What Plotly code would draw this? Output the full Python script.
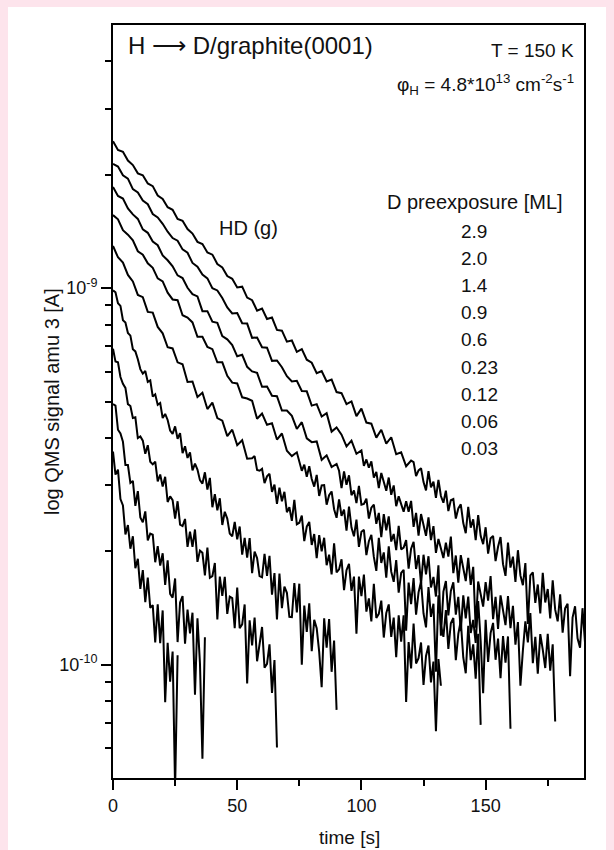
import math
import plotly.graph_objects as go

# ---------------- data ----------------
# D pre-exposure coverages [ML], top curve to bottom curve
coverage_labels = ["2.9", "2.0", "1.4", "0.9", "0.6", "0.23", "0.12", "0.06", "0.03"]
# each transient is read every 2 s up to fine_from_s, and every 1 s after it
fine_from_s = [120, 100, 90, 76, 56, 0, 0, 0, 0]
COARSE_STEP_S, FINE_STEP_S = 2, 1
# signal values given as log10(signal / 1e-10 A)
SIGNAL_UNIT_A = 1e-10

lg_2p9 = [1.390, 1.367, 1.362, 1.339, 1.327, 1.305, 1.300, 1.278, 1.271, 1.246,
          1.237, 1.215, 1.208, 1.184, 1.179, 1.157, 1.145, 1.123, 1.117, 1.095,
          1.089, 1.064, 1.055, 1.032, 1.025, 1.002, 1.004, 0.975, 0.968, 0.940,
          0.946, 0.918, 0.922, 0.889, 0.887, 0.858, 0.861, 0.831, 0.838, 0.810,
          0.802, 0.774, 0.780, 0.752, 0.757, 0.724, 0.721, 0.692, 0.699, 0.660,
          0.680, 0.643, 0.640, 0.603, 0.624, 0.587, 0.604, 0.559, 0.564, 0.527,
          0.542,
          0.538, 0.501, 0.516, 0.522, 0.485, 0.463, 0.514, 0.471, 0.486, 0.443,
          0.491, 0.448, 0.430, 0.462, 0.408, 0.437, 0.440, 0.388, 0.415, 0.426,
          0.376, 0.349, 0.419, 0.364, 0.386, 0.331, 0.397, 0.342, 0.320, 0.365,
          0.295, 0.336, 0.342, 0.275, 0.313, 0.339, 0.267, 0.236, 0.324, 0.258,
          0.287, 0.220, 0.304, 0.237, 0.211, 0.270, 0.108, 0.237, 0.245, 0.164,
          0.213, 0.136, 0.244, 0.165, 0.201, 0.123, 0.224, 0.146, 0.115, 0.187,
          0.085, 0.150, 0.162, -0.031, 0.125, 0.155, 0.070, 0.045, 0.150, 0.060]

lg_2p0 = [1.330, 1.323, 1.300, 1.291, 1.263, 1.254, 1.233, 1.223, 1.197, 1.188,
          1.171, 1.150, 1.133, 1.126, 1.103, 1.094, 1.067, 1.057, 1.036, 1.026,
          1.000, 0.994, 0.974, 0.949, 0.933, 0.934, 0.907, 0.906, 0.868, 0.869,
          0.843, 0.842, 0.807, 0.808, 0.790, 0.766, 0.752, 0.754, 0.727, 0.726,
          0.688, 0.692, 0.659, 0.668, 0.619, 0.630, 0.611, 0.580, 0.595, 0.560,
          0.569,
          0.528, 0.545, 0.523, 0.540, 0.497, 0.512, 0.469, 0.509, 0.487, 0.462,
          0.497, 0.451, 0.476, 0.421, 0.447, 0.425, 0.406, 0.434, 0.406, 0.435,
          0.366, 0.403, 0.343, 0.400, 0.373, 0.342, 0.391, 0.331, 0.368, 0.297,
          0.334, 0.307, 0.283, 0.324, 0.287, 0.340, 0.243, 0.290, 0.218, 0.291,
          0.259, 0.222, 0.284, 0.212, 0.260, 0.098, 0.221, 0.188, 0.154, 0.219,
          0.170, 0.235, 0.121, 0.180, 0.095, 0.184, 0.147, 0.105, 0.182, 0.097,
          0.156, 0.053, 0.113, -0.056, 0.038, 0.115, 0.059, 0.137, 0.004, 0.074,
          -0.024, 0.081, 0.040, -0.009, 0.082, -0.016, 0.054, -0.151]

lg_1p4 = [1.269, 1.245, 1.238, 1.212, 1.196, 1.184, 1.156, 1.147, 1.124, 1.114,
          1.087, 1.074, 1.058, 1.034, 1.027, 1.001, 0.984, 0.978, 0.939, 0.939,
          0.911, 0.908, 0.873, 0.864, 0.849, 0.819, 0.823, 0.791, 0.779, 0.775,
          0.738, 0.739, 0.714, 0.713, 0.675, 0.675, 0.661, 0.626, 0.644, 0.601,
          0.591, 0.593, 0.544, 0.556, 0.525, 0.533,
          0.515, 0.469, 0.513, 0.478, 0.503, 0.450, 0.463, 0.429, 0.475, 0.425,
          0.427, 0.441, 0.388, 0.417, 0.425, 0.374, 0.403, 0.339, 0.400, 0.357,
          0.394, 0.327, 0.347, 0.304, 0.369, 0.306, 0.311, 0.331, 0.255, 0.308,
          0.326, 0.254, 0.291, 0.214, 0.292, 0.240, 0.288, 0.205, 0.233, 0.181,
          0.264, 0.077, 0.194, 0.222, 0.131, 0.196, 0.219, 0.133, 0.180, 0.089,
          0.184, 0.123, 0.181, 0.084, 0.119, 0.058, 0.169, 0.063, -0.076, 0.119,
          0.007, 0.084, 0.111, 0.013, 0.069, -0.036, 0.076, 0.005, 0.075, -0.170]

lg_0p9 = [1.194, 1.183, 1.154, 1.142, 1.127, 1.098, 1.089, 1.066, 1.054, 1.026,
          1.018, 0.988, 0.970, 0.968, 0.928, 0.922, 0.909, 0.871, 0.871, 0.844,
          0.838, 0.803, 0.803, 0.767, 0.749, 0.747, 0.710, 0.707, 0.701, 0.653,
          0.667, 0.637, 0.641, 0.598, 0.614, 0.568, 0.554, 0.564, 0.515,
          0.531, 0.499, 0.527, 0.493, 0.473, 0.504, 0.448, 0.476, 0.477, 0.425,
          0.450, 0.460, 0.413, 0.390, 0.439, 0.395, 0.412, 0.356, 0.420, 0.364,
          0.341, 0.385, 0.313, 0.353, 0.358, 0.291, 0.328, 0.345, 0.286, 0.249,
          0.337, 0.270, 0.298, 0.231, 0.314, 0.247, 0.220, 0.278, 0.191, 0.244,
          0.252, 0.090, 0.218, 0.161, 0.230, 0.133, 0.192, 0.221, 0.136, 0.099,
          0.206, 0.127, 0.162, -0.019, 0.184, 0.105, 0.074, 0.145, 0.042, 0.110,
          0.124, 0.012, 0.082, 0.117, 0.019, -0.023, 0.103, 0.012, 0.054, -0.037,
          0.082, -0.160]

lg_0p6 = [1.112, 1.082, 1.068, 1.035, 1.018, 0.982, 0.976, 0.937, 0.935, 0.897,
          0.880, 0.843, 0.840, 0.803, 0.798, 0.751, 0.752, 0.711, 0.722, 0.679,
          0.696, 0.655, 0.648, 0.607, 0.624, 0.583, 0.596, 0.547, 0.548,
          0.554, 0.517, 0.515, 0.520, 0.482, 0.500, 0.507, 0.459, 0.478, 0.427,
          0.470, 0.434, 0.459, 0.405, 0.418, 0.382, 0.438, 0.373, 0.377, 0.396,
          0.328, 0.367, 0.379, 0.318, 0.347, 0.283, 0.344, 0.301, 0.337, 0.264,
          0.292, 0.240, 0.322, 0.245, 0.253, 0.280, 0.198, 0.251, 0.268, 0.196,
          0.234, 0.082, 0.234, 0.182, 0.239, 0.141, 0.176, 0.115, 0.215, 0.124,
          0.135, 0.170, 0.072, 0.137, 0.160, 0.074, 0.125, 0.020, 0.131, 0.061,
          0.131, -0.099, 0.060, -0.010, 0.109, 0.003, 0.017, 0.059, -0.054, 0.023,
          0.051, -0.047, 0.008, -0.177, 0.015, -0.056]

lg_0p23 = [0.994, 0.989, 0.960, 0.953, 0.915, 0.909, 0.881, 0.874, 0.838, 0.832,
           0.811, 0.785, 0.773, 0.780, 0.751, 0.755, 0.712, 0.718, 0.690, 0.695,
           0.655, 0.666, 0.650, 0.622, 0.613, 0.633, 0.600, 0.615, 0.562, 0.580,
           0.549, 0.564, 0.516, 0.534, 0.518, 0.490, 0.481, 0.511, 0.465, 0.496,
           0.418, 0.453, 0.410, 0.442, 0.371, 0.406, 0.388, 0.348, 0.341, 0.379,
           0.333, 0.367, 0.292, 0.337, 0.284, 0.336, 0.243, 0.300, 0.283, 0.235,
           0.232, 0.294, 0.236, 0.289, 0.186, 0.243, 0.120, 0.242, 0.150, 0.207,
           0.191, 0.127, 0.126, 0.217, 0.139, 0.215, 0.000, 0.157, 0.087, 0.163,
           0.036, 0.119, 0.097, 0.034, -0.060, 0.123, 0.045, 0.121, -0.019, 0.064,
           -0.120]

lg_0p12 = [0.839, 0.805, 0.803, 0.764, 0.746, 0.735, 0.692, 0.687, 0.655, 0.657,
           0.602, 0.606, 0.595, 0.560, 0.583, 0.539, 0.532, 0.539, 0.487, 0.505,
           0.473, 0.499, 0.432, 0.447, 0.437, 0.388, 0.434, 0.372, 0.368, 0.387,
           0.313, 0.353, 0.313, 0.359, 0.273, 0.303, 0.297, 0.237, 0.311, 0.231,
           0.235, 0.270, 0.120, 0.234, 0.183, 0.233, 0.135, 0.181, 0.177, 0.097,
           0.205, 0.097, 0.107, 0.160, -0.050, 0.118, 0.051, 0.125, 0.009, 0.055,
           0.100, -0.008, 0.002, 0.054, -0.075, 0.012, -0.220]

lg_0p06 = [0.692, 0.688, 0.624, 0.614, 0.592, 0.530, 0.530, 0.483, 0.488, 0.422,
           0.461, 0.391, 0.378, 0.407, 0.330, 0.348, 0.345, 0.272, 0.315, 0.263,
           0.296, 0.212, 0.277, 0.188, 0.178, 0.229, 0.060, 0.165, 0.182, 0.056,
           0.146, 0.083, 0.138, -0.080, 0.123, 0.004, -0.250, 0.073]

lg_0p03 = [0.566, 0.505, 0.518, 0.440, 0.423, 0.346, 0.371, 0.308, 0.341, 0.256,
           0.281, 0.201, 0.251, 0.166, 0.231, 0.151, 0.158, 0.059, 0.160, 0.057,
           0.144, -0.100, 0.058, -0.045, 0.035, -0.330, 0.025]

series_lg = [lg_2p9, lg_2p0, lg_1p4, lg_0p9, lg_0p6, lg_0p23, lg_0p12, lg_0p06, lg_0p03]

# axis ticks
x_major = [0, 50, 100, 150]
x_minor = [25, 75, 125, 175]
y_major = [1e-10, 1e-9]
y_major_text = ["10<sup>-10</sup>", "10<sup>-9</sup>"]
y_minor = [6e-11, 7e-11, 8e-11, 9e-11,
           2e-10, 3e-10, 4e-10, 5e-10, 6e-10, 7e-10, 8e-10, 9e-10,
           2e-9, 3e-9, 4e-9]
x_range = [0, 189.6]
y_range_A = [5e-11, 5e-9]

# ---------------- layout geometry ----------------
W, H = 614, 850
ML, MR, MT, MB = 113, 30, 25, 72
PW, PH = W - ML - MR, H - MT - MB
FONT = "Liberation Sans, Arial, Helvetica, sans-serif"
INK = "#111111"


def px(x):
    return (x - ML) / PW


def py(y):
    return (H - MB - y) / PH


def sample_times(n, fine_from):
    n_coarse = fine_from // COARSE_STEP_S + 1
    t = [COARSE_STEP_S * i for i in range(n_coarse)]
    t += [fine_from + FINE_STEP_S * k for k in range(1, n - n_coarse + 1)]
    return t


fig = go.Figure()
for lab, tf, lg in zip(coverage_labels, fine_from_s, series_lg):
    t = sample_times(len(lg), tf)
    sig = [SIGNAL_UNIT_A * 10 ** v for v in lg]
    fig.add_trace(go.Scatter(x=t, y=sig, mode="lines", name=lab + " ML",
                             line=dict(color="black", width=2.0),
                             showlegend=False, hoverinfo="skip"))

# white panel on pink page
fig.add_shape(type="rect", xref="paper", yref="paper", layer="below",
              x0=px(8), x1=px(606), y0=py(851), y1=py(7),
              fillcolor="white", line=dict(width=0))

annots = [
    dict(text="H \u27f6 D/graphite(0001)", x=px(126), y=py(46), xanchor="left",
         yanchor="middle", font=dict(size=24)),
    dict(text="T = 150 K", x=px(576), y=py(51), xanchor="right",
         yanchor="middle", font=dict(size=19)),
    dict(text="\u03c6<sub>H</sub> = 4.8*10<sup>13</sup> cm<sup>-2</sup>s<sup>-1</sup>",
         x=px(576), y=py(84), xanchor="right", yanchor="middle", font=dict(size=19)),
    dict(text="HD (g)", x=px(248), y=py(228), xanchor="center",
         yanchor="middle", font=dict(size=20)),
    dict(text="D preexposure [ML]", x=px(475), y=py(202), xanchor="center",
         yanchor="middle", font=dict(size=20)),
    dict(text="log QMS signal amu 3 [A]", x=px(52), y=py(402), xanchor="center",
         yanchor="middle", textangle=-90, font=dict(size=20)),
    dict(text="time [s]", x=px(349), y=py(837), xanchor="center",
         yanchor="middle", font=dict(size=19)),
]
for i, lab in enumerate(coverage_labels):
    annots.append(dict(text=lab, x=px(459), y=py(231.7 + 27.07 * i), xanchor="left",
                       yanchor="middle", font=dict(size=19)))
for a in annots:
    a.update(xref="paper", yref="paper", showarrow=False)
    a["font"].update(family=FONT, color=INK)
    fig.add_annotation(**a)

axis_common = dict(showline=True, linewidth=2, linecolor="black", mirror=True,
                   showgrid=False, zeroline=False, ticks="outside", tickwidth=2,
                   tickcolor="black", ticklen=10, automargin=False,
                   tickfont=dict(family=FONT, size=18, color=INK))

fig.update_xaxes(range=x_range, tickmode="array", tickvals=x_major,
                 minor=dict(tickmode="array", tickvals=x_minor, ticks="outside",
                            ticklen=6, tickwidth=2, tickcolor="black"),
                 **axis_common)
fig.update_yaxes(type="log", range=[math.log10(v) for v in y_range_A],
                 tickmode="array", tickvals=y_major, ticktext=y_major_text,
                 minor=dict(tickmode="array", tickvals=y_minor, ticks="outside",
                            ticklen=6, tickwidth=2, tickcolor="black"),
                 **axis_common)

fig.update_layout(width=W, height=H, autosize=False,
                  margin=dict(l=ML, r=MR, t=MT, b=MB, pad=0, autoexpand=False),
                  paper_bgcolor="#fde4ec", plot_bgcolor="white",
                  font=dict(family=FONT, color=INK))

fig.write_html("out.html")
